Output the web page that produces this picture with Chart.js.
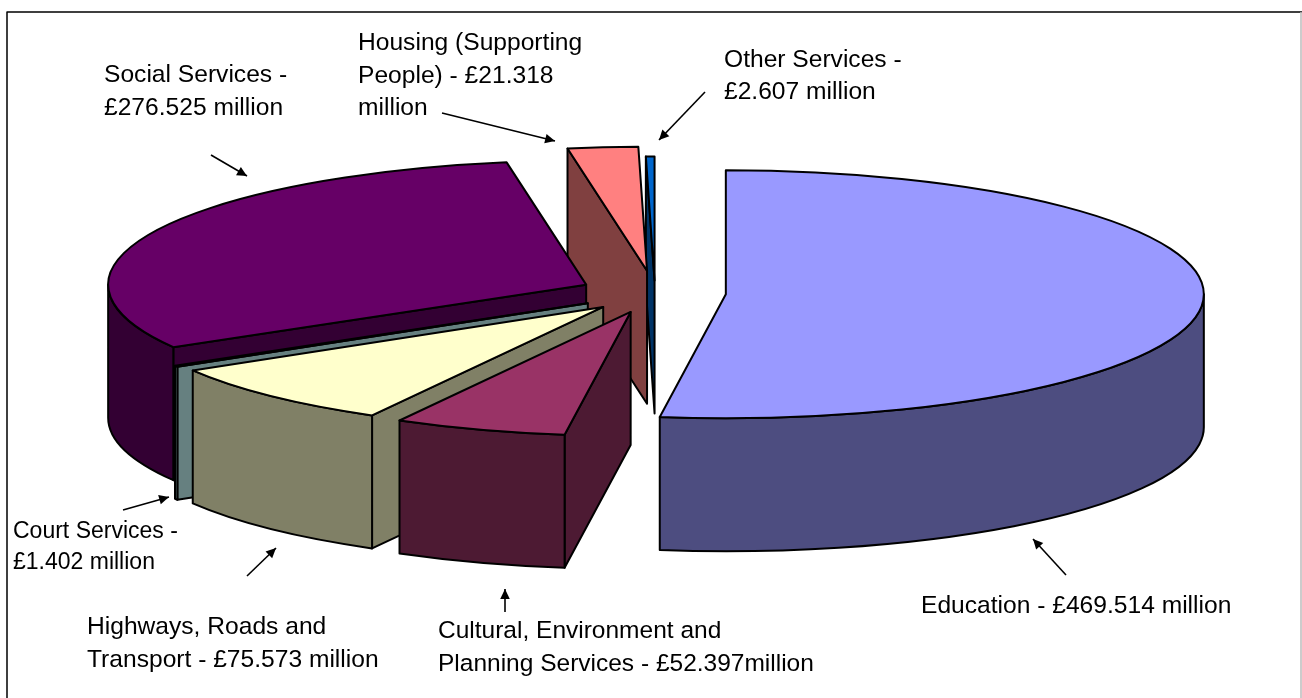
<!DOCTYPE html>
<html>
<head>
<meta charset="utf-8">
<title>Spending by service</title>
<script src="https://cdn.jsdelivr.net/npm/chart.js@4"></script>
<style>
  html, body { margin: 0; padding: 0; background: #fff; }
  #wrap { width: 1302px; height: 698px; }
</style>
</head>
<body>
<div id="wrap"><canvas id="myChart" width="1302" height="698"></canvas></div>
<script>
// values in GBP million, clockwise from 12 o'clock
const categories = ["Education", "Cultural, Environment and Planning Services", "Highways, Roads and Transport",
  "Court Services", "Social Services", "Housing (Supporting People)", "Other Services"];
const amounts = [469.514, 52.397, 75.573, 1.402, 276.525, 21.318, 2.607];
const topColours = ["#9999FF", "#993366", "#FFFFCC", "#CCFFFF", "#660066", "#FF8080", "#0066CC"];
const wallColours = ["#4D4D80", "#4D1A33", "#808066", "#668080", "#330033", "#804040", "#003366"];
const explode = [71, 77, 74.5, 78, 76, 86, 48];

// back to front, the order the slices have to be painted in
const paintOrder = [6, 5, 4, 3, 2, 1, 0];

const RX = 478, RY = 124, DEPTH = 133, CY = 293;

const notes = [
  { lines: ["Social Services -", "£276.525 million"], x: 104, y: 82, gap: 32.5, size: 24.6 },
  { lines: ["Housing (Supporting", "People) - £21.318", "million"], x: 358, y: 50, gap: 32.5, size: 24.6 },
  { lines: ["Other Services -", "£2.607 million"], x: 724, y: 67, gap: 32, size: 24.6 },
  { lines: ["Education - £469.514 million"], x: 921, y: 613, gap: 32, size: 24.6 },
  { lines: ["Cultural, Environment and", "Planning Services - £52.397million"], x: 438, y: 638, gap: 32.5, size: 24.5 },
  { lines: ["Highways, Roads and", "Transport - £75.573 million"], x: 87, y: 634, gap: 32.5, size: 24.6 },
  { lines: ["Court Services -", "£1.402 million"], x: 13, y: 538, gap: 31, size: 23 }
];

const arrows = [
  [211, 155, 247, 176],
  [442, 113, 555, 141],
  [705, 92, 659, 140],
  [1066, 575, 1033, 539],
  [505, 612, 505, 589],
  [247, 576, 276, 548],
  [123, 510, 169, 497]
];

function drawArrow(ctx, a) {
  const ang = Math.atan2(a[3] - a[1], a[2] - a[0]);
  ctx.strokeStyle = "#000";
  ctx.fillStyle = "#000";
  ctx.lineWidth = 1.6;
  ctx.beginPath();
  ctx.moveTo(a[0], a[1]);
  ctx.lineTo(a[2], a[3]);
  ctx.stroke();
  ctx.beginPath();
  ctx.moveTo(a[2], a[3]);
  ctx.lineTo(a[2] - 11 * Math.cos(ang - 0.45), a[3] - 11 * Math.sin(ang - 0.45));
  ctx.lineTo(a[2] - 11 * Math.cos(ang + 0.45), a[3] - 11 * Math.sin(ang + 0.45));
  ctx.closePath();
  ctx.fill();
}

// fill then outline, outline is done here so its width isn't squashed by the tilt
function shape(ctx, colour, build) {
  ctx.beginPath();
  build();
  ctx.closePath();
  if (colour) {
    ctx.fillStyle = colour;
    ctx.fill();
  }
  ctx.strokeStyle = "#000";
  ctx.lineWidth = 2;
  ctx.lineJoin = "round";
  ctx.stroke();
}

function drawSlice(ctx, arc, i) {
  const mid = (arc.startAngle + arc.endAngle) / 2;
  const dx = Math.cos(mid) * explode[i];
  const dy = Math.sin(mid) * explode[i];
  const cx = arc.x + dx;
  const cy = CY + dy * RY / RX;
  const px = a => cx + Math.cos(a) * RX;
  const py = a => cy + Math.sin(a) * RY;

  // cut face at the start of the slice, only when it looks towards us
  if (Math.cos(arc.startAngle) < -1e-6) {
    shape(ctx, wallColours[i], () => {
      ctx.moveTo(cx, cy);
      ctx.lineTo(px(arc.startAngle), py(arc.startAngle));
      ctx.lineTo(px(arc.startAngle), py(arc.startAngle) + DEPTH);
      ctx.lineTo(cx, cy + DEPTH);
    });
  }

  // outer wall, front half of the ellipse only
  const from = Math.max(arc.startAngle, 0);
  const to = Math.min(arc.endAngle, Math.PI);
  if (to > from) {
    shape(ctx, wallColours[i], () => {
      ctx.ellipse(cx, cy, RX, RY, 0, from, to);
      ctx.ellipse(cx, cy + DEPTH, RX, RY, 0, to, from, true);
    });
  }

  // top of the slice is the library's own arc, tilted and pulled out
  ctx.save();
  ctx.translate(0, CY);
  ctx.scale(1, RY / RX);
  ctx.translate(dx, dy - arc.y);
  arc.draw(ctx);
  ctx.restore();

  shape(ctx, null, () => {
    ctx.moveTo(cx, cy);
    ctx.ellipse(cx, cy, RX, RY, 0, arc.startAngle, arc.endAngle);
  });
}

const tiltedPie = {
  id: "tiltedPie",
  beforeDatasetDraw(chart, args) {
    const ctx = chart.ctx;
    paintOrder.forEach(i => drawSlice(ctx, args.meta.data[i], i));
    return false;
  },
  afterDraw(chart) {
    const ctx = chart.ctx;
    ctx.save();
    ctx.strokeStyle = "#000";
    ctx.lineWidth = 1.5;
    ctx.beginPath();
    ctx.moveTo(7, 698);
    ctx.lineTo(7, 12);
    ctx.lineTo(1302, 12);
    ctx.stroke();
    ctx.strokeStyle = "#bbb";
    ctx.beginPath();
    ctx.moveTo(1301, 12);
    ctx.lineTo(1301, 698);
    ctx.stroke();
    arrows.forEach(a => drawArrow(ctx, a));
    ctx.fillStyle = "#000";
    ctx.textBaseline = "alphabetic";
    notes.forEach(n => {
      ctx.font = n.size + 'px "Liberation Sans", Arial, sans-serif';
      n.lines.forEach((line, k) => ctx.fillText(line, n.x, n.y + k * n.gap));
    });
    ctx.restore();
  }
};

let ctx = document.getElementById("myChart").getContext("2d");
let chart = new Chart(ctx, {
  type: "pie",
  data: {
    labels: categories,
    datasets: [{
      data: amounts,
      backgroundColor: topColours,
      borderWidth: 0
    }]
  },
  options: {
    responsive: false,
    animation: false,
    radius: RX,
    layout: { padding: { left: 8 } },
    plugins: { legend: { display: false }, tooltip: { enabled: false } }
  },
  plugins: [tiltedPie]
});
</script>
</body>
</html>
